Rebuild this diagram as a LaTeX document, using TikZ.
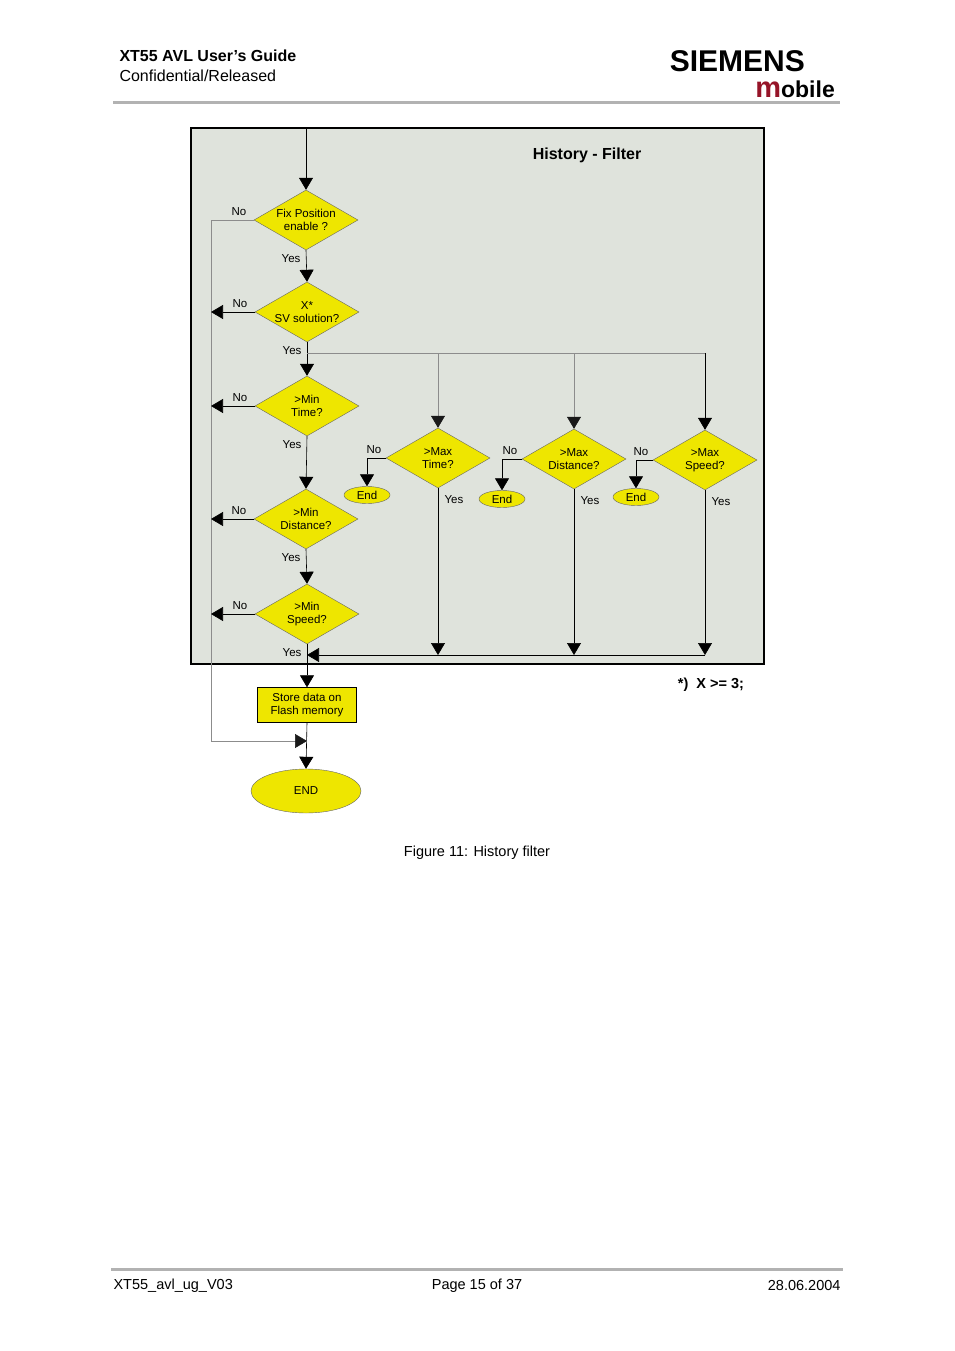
\documentclass[tikz,border=0pt]{standalone}
\usepackage{fontspec}
\setmainfont{Liberation Sans}
\usepackage{xcolor}
\usetikzlibrary{shapes.geometric, arrows.meta, positioning, calc}
\definecolor{panel}{RGB}{223, 227, 220}
\definecolor{yel}{RGB}{238, 230, 0}
\definecolor{siem}{RGB}{150, 20, 40}
\tikzstyle{decision} = [diamond, aspect=1.7, minimum width=104pt, minimum height=60pt, inner sep=0pt, draw=black!60, fill=yel, font=\fontsize{11.5}{12.5}\selectfont, align=center]
\tikzstyle{endbox} = [ellipse, minimum width=46pt, minimum height=17pt, inner sep=0pt, draw=black!60, fill=yel, font=\fontsize{11.5}{12.5}\selectfont]
\tikzstyle{arrow} = [semithick, -{Triangle[width=14pt,length=12pt]}]
\tikzstyle{grayarrow} = [semithick, black!45, -{Triangle[width=14pt,length=12pt,fill=black!90,color=black!90]}]
\tikzstyle{lbl} = [font=\fontsize{11.5}{12.5}\selectfont]
\begin{document}
\begin{tikzpicture}[x=1pt, y=-1pt]
\useasboundingbox (0,0) rectangle (954,1351);

% header and footer
\node[anchor=west, font=\bfseries\fontsize{16}{18}\selectfont] (title) at (116,56) {XT55 AVL User’s Guide};
\node[anchor=west, font=\fontsize{16}{18}\selectfont] (status) at (116,76) {Confidential/Released};
\node[anchor=east, inner sep=0pt, font=\bfseries\fontsize{30}{32}\selectfont] (logo) at (805,61) {SIEMENS};
\node[anchor=east, inner sep=0pt, font=\bfseries\fontsize{23}{25}\selectfont] (mob) at (835,89) {\textcolor{siem}{\fontsize{29}{31}\selectfont m}obile};
\draw[line width=3pt, black!30] (113,103) -- (840,103);
\draw[line width=3pt, black!30] (111,1269) -- (843,1269);
\node[anchor=west, font=\fontsize{14.5}{16}\selectfont] (fa) at (110,1286) {XT55\_avl\_ug\_V03};
\node[font=\fontsize{14.5}{16}\selectfont] (fb) at (477,1286) {Page 15 of 37};
\node[anchor=east, font=\fontsize{14.5}{16}\selectfont] (fc) at (844,1285) {28.06.2004};

% panel
\draw[line width=1.5pt, fill=panel] (191,128) rectangle (764,664);
\node[font=\bfseries\fontsize{16}{18}\selectfont] (head) at (587,155) {History - Filter};
\node[font=\bfseries\fontsize{14.5}{16}\selectfont] (note) at (711,685) {*)\ \ X >= 3;};
\node[font=\fontsize{14.5}{16}\selectfont] (cap) at (477,853) {Figure 11: History filter};

% left column
\coordinate (start) at (306,128);
\node[decision] (fix) at (306,220) {Fix Position\\enable ?};
\node[decision] (sv) at (307,312) {X*\\SV solution?};
\node[decision] (mint) at (307,406) {>Min\\Time?};
\node[decision] (mind) at (306,519) {>Min\\Distance?};
\node[decision] (mins) at (307,614) {>Min\\Speed?};
\node[rectangle, draw=black, fill=yel, minimum width=99pt, minimum height=35pt, inner sep=1pt, align=center, font=\fontsize{11.5}{12.5}\selectfont] (store) at (307,705) {Store data on\\Flash memory};
\node[ellipse, draw=black!60, fill=yel, minimum width=110pt, minimum height=44pt, font=\fontsize{11.5}{12.5}\selectfont] (fin) at (306,791) {END};

% right decisions
\node[decision] (maxt) at (438,458) {>Max\\Time?};
\node[decision] (maxd) at (574,459) {>Max\\Distance?};
\node[decision] (maxs) at (705,460) {>Max\\Speed?};
\node[endbox] (end1) at (367,495) {End};
\node[endbox] (end2) at (502,499) {End};
\node[endbox] (end3) at (636,497) {End};

% helper points
\coordinate (join) at (307,655);
\coordinate (skip) at (307,741);
\coordinate (fork) at (307,353);

\draw[arrow] (start) -- (fix.north);
\draw[arrow] (fix.south) -- (sv.north);
\draw[arrow] (sv.south) -- (mint.north);
\draw[arrow] (mint.south) -- (mind.north);
\draw[arrow] (mind.south) -- (mins.north);
\draw[arrow] (mins.south) -- (store.north);
\draw[arrow] (store.south) -- (fin.north);

% no branches
\draw[black!45] (fix.west) -- (211,220) -- (211,741) -- (skip);
\draw[grayarrow] ($(skip)+(-20,0)$) -- (skip);
\foreach \d in {sv, mint, mind, mins}
  \draw[arrow] (\d.west) -- (\d.west -| 211,0);

% fork to max checks
\draw[black!45] (fork) -- (705,353);
\draw[grayarrow] (438,353) -- (maxt.north);
\draw[grayarrow] (574,353) -- (maxd.north);
\draw[arrow] (705,353) -- (maxs.north);
\draw[arrow] (maxt.west) -| (end1.north);
\draw[arrow] (maxd.west) -| (end2.north);
\draw[arrow] (maxs.west) -| (end3.north);

% yes paths to join
\draw[arrow] (maxt.south) -- (maxt.south |- join);
\draw[arrow] (maxd.south) -- (maxd.south |- join);
\draw[arrow] (maxs.south) -- (maxs.south |- join);
\draw[arrow] (maxs.south |- join) -- (join);

% labels
\foreach \d in {fix, sv, mint, mind, mins}
  \node[lbl, above left=1pt and 4pt of \d.west] {No};
\foreach \d in {maxt, maxd, maxs}
  \node[lbl, above left=1pt and 1pt of \d.west] {No};
\foreach \d in {fix, sv, mint, mind, mins}
  \node[lbl, below left=1pt and 2pt of \d.south] {Yes};
\foreach \d in {maxt, maxd, maxs}
  \node[lbl, below right=4pt and 3pt of \d.south] {Yes};
\end{tikzpicture}
\end{document}
